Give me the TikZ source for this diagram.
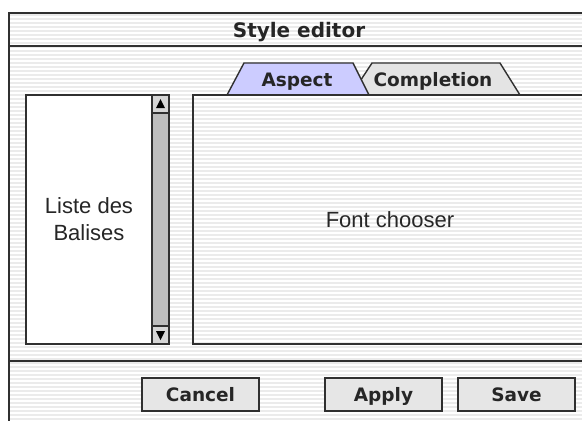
\documentclass[tikz,border=0pt]{standalone}
\usepackage{fontspec}
\setmainfont{Liberation Sans}
\newfontfamily\uifont{DejaVu Sans}
\usetikzlibrary{positioning}

\definecolor{frame}{HTML}{303030}
\definecolor{stripe}{HTML}{EBEBEB}
\definecolor{tabsel}{HTML}{CCCCFF}
\definecolor{tabgray}{HTML}{E4E4E4}
\definecolor{btngray}{HTML}{E6E6E6}
\definecolor{bargray}{HTML}{BEBEBE}
\definecolor{arrowbox}{HTML}{D6D6D6}

\tikzset{
    edge/.style={draw=frame, line width=1.4pt},
    boldtext/.style={font=\uifont\bfseries\fontsize{18.5}{22}\selectfont, text=black!85,
        text height=13.5pt, text depth=0pt},
    plaintext/.style={font=\fontsize{22}{27}\selectfont, text=black!85, align=center},
    button/.style={edge, fill=btngray},
}

\begin{document}
\begin{tikzpicture}
                \tikzset{x={(1pt, 0pt)}, y={(0pt, -1pt)}}
                \useasboundingbox (0, 0) rectangle (582, 421);
                \clip (0, 0) rectangle (582, 421);
                \fill[white] (0, 0) rectangle (582, 421);
                \foreach \y in {14, 18, ..., 422}
                    \fill[stripe] (9, \y) rectangle (582, \y + 2);
                \draw[edge] (9, 430) -- (9, 13) -- (590, 13);
                \draw[edge] (9, 46) -- (590, 46);
                \draw[edge] (9, 361) -- (590, 361);
                \node[boldtext, font=\uifont\bfseries\fontsize{20}{24}\selectfont, text height=14.5pt] (title) at (299, 30) {Style editor};
                \draw[edge, fill=white] (26, 95) rectangle (152, 344) node[midway, plaintext] (tags) {Liste des\\Balises};
                \draw[edge, fill=bargray] (152, 95) rectangle (169, 344);
                \draw[edge, fill=arrowbox] (152, 95) rectangle (169, 113);
                \draw[edge, fill=arrowbox] (152, 326) rectangle (169, 344);
                \fill[black] (156, 108) -- (165, 108) -- (160.5, 99) -- cycle;
                \fill[black] (156, 331) -- (165, 331) -- (160.5, 340) -- cycle;
                \draw[edge, fill=tabgray] (351, 95) -- (372, 63) -- (500, 63) -- (520, 95);
                \draw[edge, fill=tabsel] (227, 95) -- (244, 63) -- (353, 63) -- (369, 95);
                \node[boldtext] (aspect) at (297, 80) {Aspect};
                \node[boldtext] (completion) at (433, 80) {Completion};
                \draw[edge] (590, 95) -- (193, 95) -- (193, 344) -- (590, 344);
                \node[plaintext] (fonts) at (390, 220) {Font chooser};
                \draw[button] (142, 378) rectangle (259, 411) node[midway, boldtext] (cancel) {Cancel};
                \draw[button] (325, 378) rectangle (442, 411) node[midway, boldtext] (apply) {Apply};
                \draw[button] (458, 378) rectangle (575, 411) node[midway, boldtext] (save) {Save};
            \end{tikzpicture}
\end{document}
